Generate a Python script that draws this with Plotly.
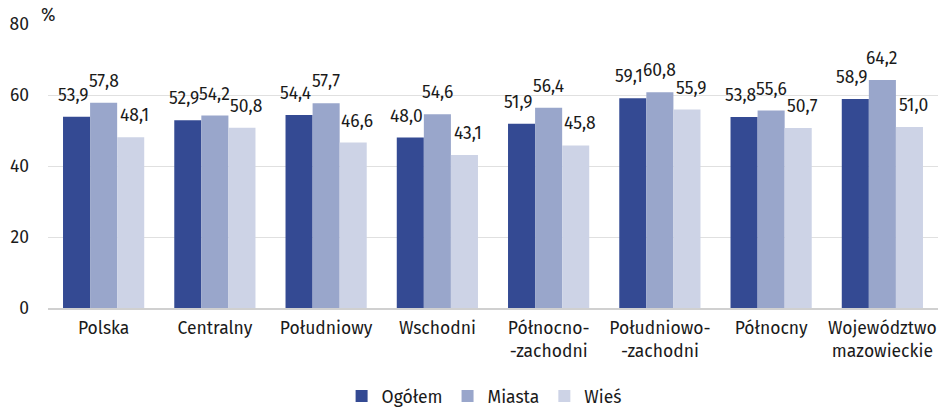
import plotly.graph_objects as go

categories = ["Polska", "Centralny", "Południowy", "Wschodni", "Północno-<br>-zachodni",
              "Południowo-<br>-zachodni", "Północny", "Województwo<br>mazowieckie"]
ogolem = [53.9, 52.9, 54.4, 48.0, 51.9, 59.1, 53.8, 58.9]
miasta = [57.8, 54.2, 57.7, 54.6, 56.4, 60.8, 55.6, 64.2]
wies = [48.1, 50.8, 46.6, 43.1, 45.8, 55.9, 50.7, 51.0]

series = [("Ogółem", ogolem, "#344a93"), ("Miasta", miasta, "#99a6cb"), ("Wieś", wies, "#cdd3e6")]
font = "Fira Sans, Noto Sans, Open Sans, sans-serif"
FS = 17.5

W, H = 939, 407
ML, MR, MT, MB = 48, 1, 24, 99
BARGAP = 0.27

fig = go.Figure()
for name, vals, col in series:
    fig.add_trace(go.Bar(
        x=categories, y=vals, name=name, marker_color=col, marker_line_width=0,
        hoverinfo="x+y+name",
    ))

# value labels placed above each bar, offset by the bar slot within the group
slot = (W - ML - MR) / len(categories) * (1 - BARGAP) / len(series)
nudge = [-4, 0, 4]
for i, (name, vals, col) in enumerate(series):
    for c, v in zip(categories, vals):
        fig.add_annotation(
            x=c, y=v, text=f"{v:.1f}".replace(".", ","), showarrow=False,
            xanchor="center", yanchor="bottom",
            xshift=(i - 1) * slot + nudge[i], yshift=9,
            font=dict(size=FS, color="#1a1a1a", family=font),
        )

fig.update_layout(
    width=W, height=H,
    margin=dict(l=ML, r=MR, t=MT, b=MB, autoexpand=False),
    barmode="group", bargap=BARGAP, bargroupgap=0,
    separators=", ",
    plot_bgcolor="white", paper_bgcolor="white",
    font=dict(family=font, size=FS, color="#1a1a1a"),
    legend=dict(orientation="h", x=0.49, xanchor="center", yref="container", y=0.027,
                yanchor="middle", font=dict(size=FS), traceorder="normal", itemwidth=30),
)
fig.update_yaxes(range=[0, 80], dtick=20, showgrid=True, gridcolor="#e0e0e0", gridwidth=1,
                 zeroline=False, ticks="", ticklabelstandoff=18, tickfont=dict(size=FS),
                 automargin=False)
fig.update_xaxes(showline=True, linecolor="#d0d0d0", linewidth=2, ticks="",
                 tickfont=dict(size=FS), ticklabelstandoff=3, automargin=False)
fig.add_annotation(text="%", xref="paper", yref="paper", x=0, y=1, xanchor="center",
                   yanchor="bottom", showarrow=False, font=dict(size=FS), xshift=0, yshift=-4)

fig.write_html("out.html", config={"displayModeBar": False},
               post_script="document.body.style.margin='0';document.body.style.overflow='hidden';")
